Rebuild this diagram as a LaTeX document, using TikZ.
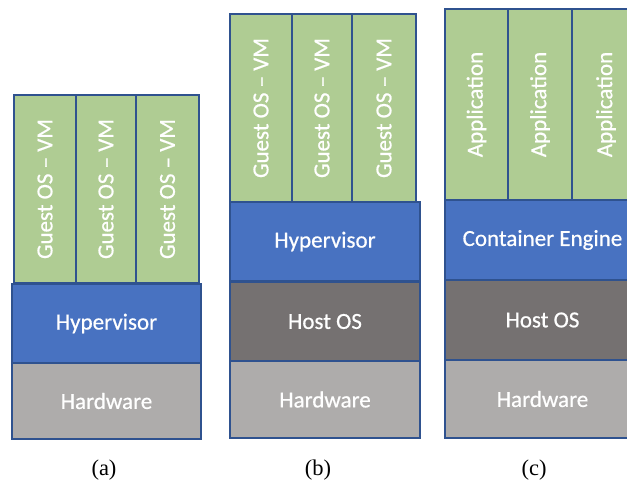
\documentclass[tikz,border=0pt]{standalone}
\usepackage{fontspec}
\setmainfont{Liberation Serif}
\newfontfamily\calib[FakeBold=0.6]{Carlito}
\definecolor{vmgreen}{RGB}{175,204,147}
\definecolor{layblue}{RGB}{72,114,193}
\definecolor{hostgray}{RGB}{117,113,113}
\definecolor{hwgray}{RGB}{174,172,171}
\definecolor{bordc}{RGB}{47,82,143}
\tikzset{
  layer/.style={draw=bordc, line width=1.3pt, text=white, inner sep=0pt,
    font=\calib\fontsize{23}{27}\selectfont},
  vm/.style={layer, fill=vmgreen, rotate=90},
  hyp/.style={layer, fill=layblue},
  host/.style={layer, fill=hostgray},
  hw/.style={layer, fill=hwgray},
  captxt/.style={font=\fontsize{22.5}{26}\selectfont, inner sep=0pt}
}
\begin{document}
\begin{tikzpicture}[x=1pt,y=-1pt]
\useasboundingbox (0,0) rectangle (627,486);
\clip (0,0) rectangle (627,486);
% (a)
\node[vm, minimum width=188, minimum height=62] (a1) at (45,189) {Guest OS – VM};
\node[vm, minimum width=188, minimum height=60] (a2) at (106,189) {Guest OS – VM};
\node[vm, minimum width=188, minimum height=63] (a3) at (167.5,189) {Guest OS – VM};
\node[hyp, minimum width=189, minimum height=79] (ahyp) at (106.5,323.5) {Hypervisor};
\node[hw, minimum width=189, minimum height=76] (ahw) at (106.5,401) {Hardware};
% (b)
\node[vm, minimum width=188, minimum height=62] (b1) at (261,108) {Guest OS – VM};
\node[vm, minimum width=188, minimum height=60] (b2) at (322,108) {Guest OS – VM};
\node[vm, minimum width=188, minimum height=64] (b3) at (384,108) {Guest OS – VM};
\node[hyp, minimum width=190, minimum height=79] (bhyp) at (325,241.5) {Hypervisor};
\node[host, minimum width=190, minimum height=79] (bhost) at (325,321.5) {Host OS};
\node[hw, minimum width=190, minimum height=77] (bhw) at (325,399.5) {Hardware};
% (c)
\node[vm, minimum width=191, minimum height=63] (c1) at (476.5,104.5) {Application};
\node[vm, minimum width=191, minimum height=64] (c2) at (540,104.5) {Application};
\node[vm, minimum width=191, minimum height=68] (c3) at (606,104.5) {Application};
\node[hyp, minimum width=195, minimum height=80] (cce) at (542.5,240) {Container Engine};
\node[host, minimum width=195, minimum height=80] (chost) at (542.5,320) {Host OS};
\node[hw, minimum width=195, minimum height=78] (chw) at (542.5,399) {Hardware};
% captions
\node[captxt] (capa) at (104,470) {(a)};
\node[captxt] (capb) at (318,470) {(b)};
\node[captxt] (capc) at (534,470) {(c)};
\end{tikzpicture}
\end{document}
